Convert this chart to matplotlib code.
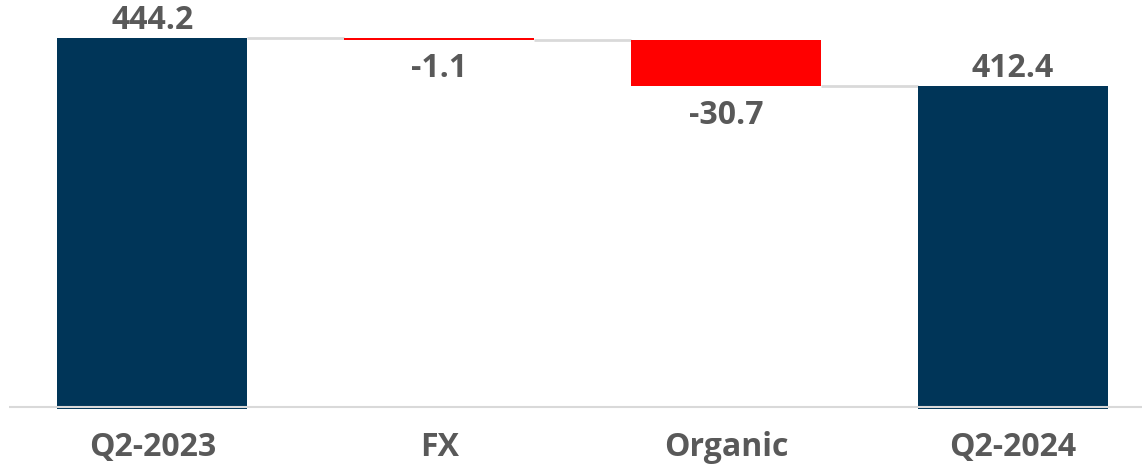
import matplotlib.pyplot as plt

categories = ["Q2-2023", "FX", "Organic", "Q2-2024"]
start_value = 444.2
changes = [-1.1, -30.7]
end_value = 412.4

navy = "#003558"
red = "#ff0000"
txt = "#595959"
plt.rcParams['font.family'] = ['Open Sans', 'DejaVu Sans']

fig = plt.figure(figsize=(11.42, 4.67), dpi=100)
ax = fig.add_axes([9 / 1142, 58 / 467, 1133 / 1142, 409 / 467])
ymin = 198.7
ax.set_xlim(-0.5, 3.45)
ax.set_ylim(ymin, 469.4)
w = 0.662

# totals
ax.bar(0, start_value - ymin, bottom=ymin, width=w, color=navy, zorder=2)
ax.bar(3, end_value - ymin, bottom=ymin, width=w, color=navy, zorder=2)

# deltas
level = start_value
levels = [start_value]
for i, c in enumerate(changes):
    ax.bar(i + 1, c, bottom=level, width=w, color=red, zorder=2)
    level += c
    levels.append(level)

# connectors
for i, lv in enumerate(levels):
    ax.plot([i + w / 2, i + 1 - w / 2], [lv, lv], color="#d9d9d9", lw=2, zorder=1,
            solid_capstyle="butt")

ax.axhline(200, color="#d9d9d9", lw=1.5, zorder=3)

lab = dict(ha="center", fontsize=23, fontweight="bold", color=txt)
ax.annotate(f"{start_value:.1f}", (0, start_value), xytext=(0, 1), textcoords="offset points", va="bottom", **lab)
ax.annotate(f"{end_value:.1f}", (3, end_value), xytext=(0, 1), textcoords="offset points", va="bottom", **lab)
for i, c in enumerate(changes):
    ax.annotate(f"{c:.1f}", (i + 1, levels[i + 1]), xytext=(0, -9), textcoords="offset points", va="top", **lab)

ax.set_xticks(range(4))
ax.set_xticklabels(categories, fontsize=23, fontweight="bold", color=txt)
ax.tick_params(axis="x", length=0, pad=16)
ax.set_yticks([])
for s in ax.spines.values():
    s.set_visible(False)

fig.savefig("out.png", dpi=100)
